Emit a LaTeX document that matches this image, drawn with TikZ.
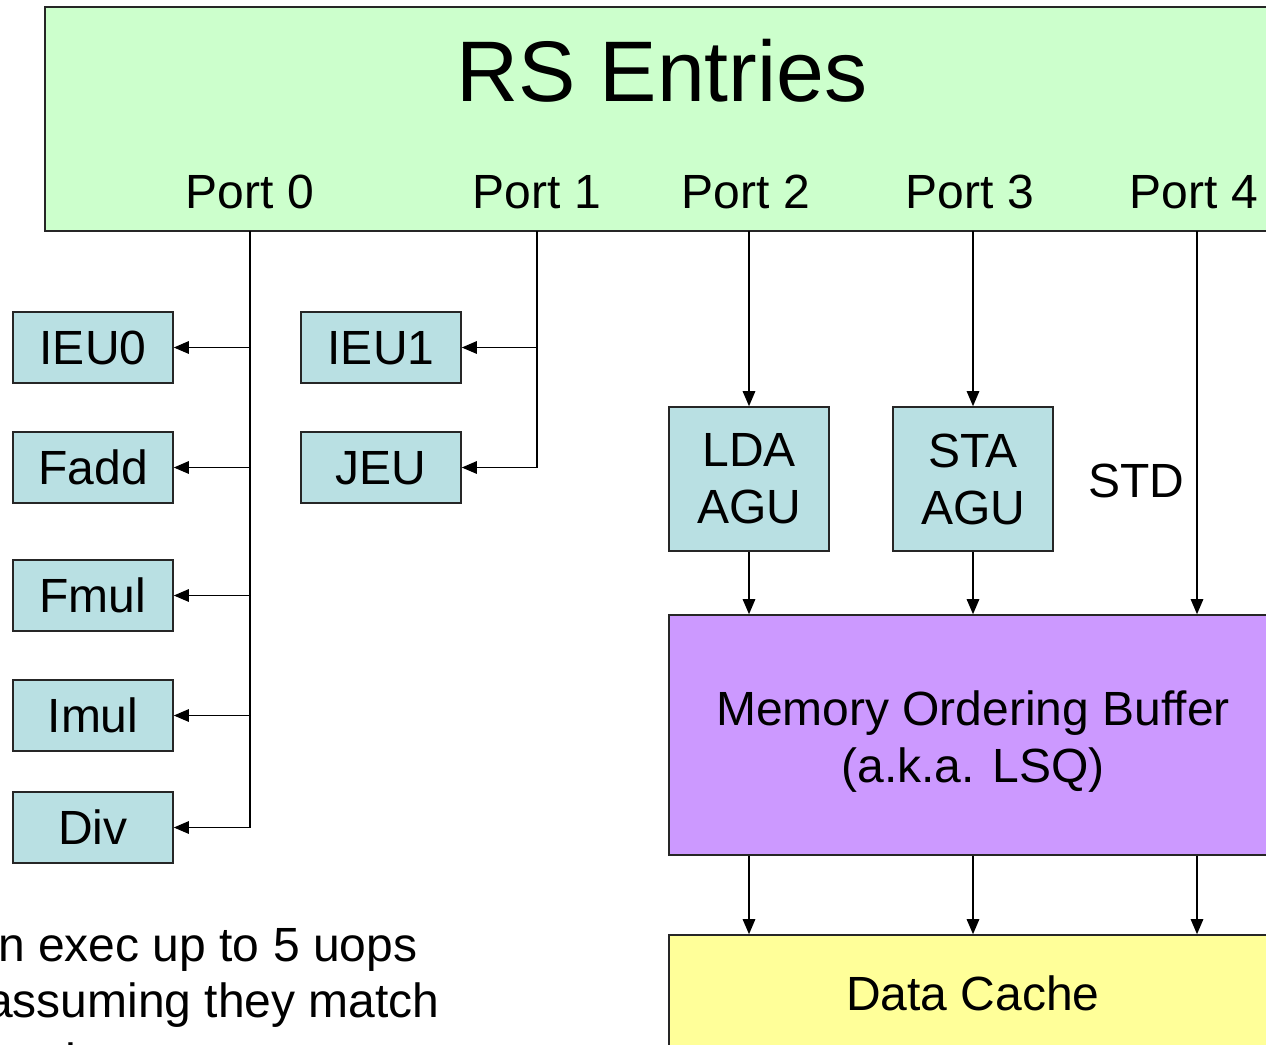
\documentclass[tikz,border=0pt]{standalone}
\usepackage{fontspec}
\setmainfont{Liberation Sans}
\usetikzlibrary{arrows.meta}
\definecolor{rsgreen}{HTML}{CCFFCC}
\definecolor{unitblue}{HTML}{B9E0E3}
\definecolor{mobpurple}{HTML}{CC99FF}
\definecolor{cacheyellow}{HTML}{FFFF99}
\begin{document}
\begin{tikzpicture}[x=1pt,y=-1pt,
  box/.style={draw=black!85, line width=1.6pt, inner sep=0pt},
  unit/.style={box, fill=unitblue, minimum width=160pt, minimum height=71pt,
    font=\fontsize{48}{57}\selectfont, text height=34pt, text depth=0pt},
  agu/.style={box, fill=unitblue, minimum width=160pt, minimum height=144pt,
    align=center, font=\fontsize{48}{57}\selectfont},
  lbl/.style={font=\fontsize{48}{57}\selectfont, anchor=base, inner sep=0pt},
  wire/.style={line width=1.3pt, -{Triangle[length=15pt,width=12.5pt]}}]
\useasboundingbox (0,0) rectangle (1266,1044);
\clip (0,0) rectangle (1266,1044);

% reservation station block and its issue ports
\node[box, fill=rsgreen, minimum width=1234pt, minimum height=224pt] (rs) at (662,119) {};
\node[lbl, font=\fontsize{86}{100}\selectfont] (title) at (662,101) {RS Entries};
\node[lbl] (port0) at (250,208) {Port 0};
\node[lbl] (port1) at (537,208) {Port 1};
\node[lbl] (port2) at (746,208) {Port 2};
\node[lbl] (port3) at (970,208) {Port 3};
\node[lbl] (port4) at (1194,208) {Port 4};
\coordinate (p0) at (250,231);
\coordinate (p1) at (537,231);
\coordinate (p2) at (749,231);
\coordinate (p3) at (973,231);
\coordinate (p4) at (1197,231);

% execution units
\node[unit] (ieu0) at (93,347.5) {IEU0};
\node[unit] (fadd) at (93,467.5) {Fadd};
\node[unit] (fmul) at (93,595.5) {Fmul};
\node[unit] (imul) at (93,715.5) {Imul};
\node[unit] (div)  at (93,827.5) {Div};
\node[unit] (ieu1) at (381,347.5) {IEU1};
\node[unit] (jeu)  at (381,467.5) {JEU};
\node[agu] (lda) at (749,479) {LDA\\AGU};
\node[agu] (sta) at (973,479) {STA\\AGU};
\node[lbl] (std) at (1136,497) {STD};

% memory side
\node[box, fill=mobpurple, minimum width=608pt, minimum height=240pt] (mob) at (973,735) {};
\node[lbl] (mobA) at (973,725) {Memory Ordering Buffer};
\node[lbl] (mobB) at (973,782) {(a.k.a. LSQ)};
\node[box, fill=cacheyellow, minimum width=608pt, minimum height=200pt] (dc) at (973,1035) {};
\node[lbl] (dcl) at (973,1010) {Data Cache};

% port 0 and port 1 dispatch
\foreach \u in {ieu0,fadd,fmul,imul,div} \draw[wire] (p0) |- (\u.east);
\foreach \u in {ieu1,jeu} \draw[wire] (p1) |- (\u.east);

% ports 2-4 into the memory pipeline
\draw[wire] (p2) -- (lda.north);
\draw[wire] (p3) -- (sta.north);
\draw[wire] (lda.south) -- (lda.south |- mob.north);
\draw[wire] (sta.south) -- (sta.south |- mob.north);
\draw[wire] (p4) -- (p4 |- mob.north);
\draw[wire] (lda.south |- mob.south) -- (lda.south |- dc.north);
\draw[wire] (sta.south |- mob.south) -- (sta.south |- dc.north);
\draw[wire] (p4 |- mob.south) -- (p4 |- dc.north);

% note
\node[lbl, anchor=base west] (note1) at (-2,961) {n exec up to 5 uops};
\node[lbl, anchor=base west] (note2) at (-14,1017) {assuming they match};
\node[lbl, anchor=base west] (note3) at (52,1077) {the};
\end{tikzpicture}
\end{document}
